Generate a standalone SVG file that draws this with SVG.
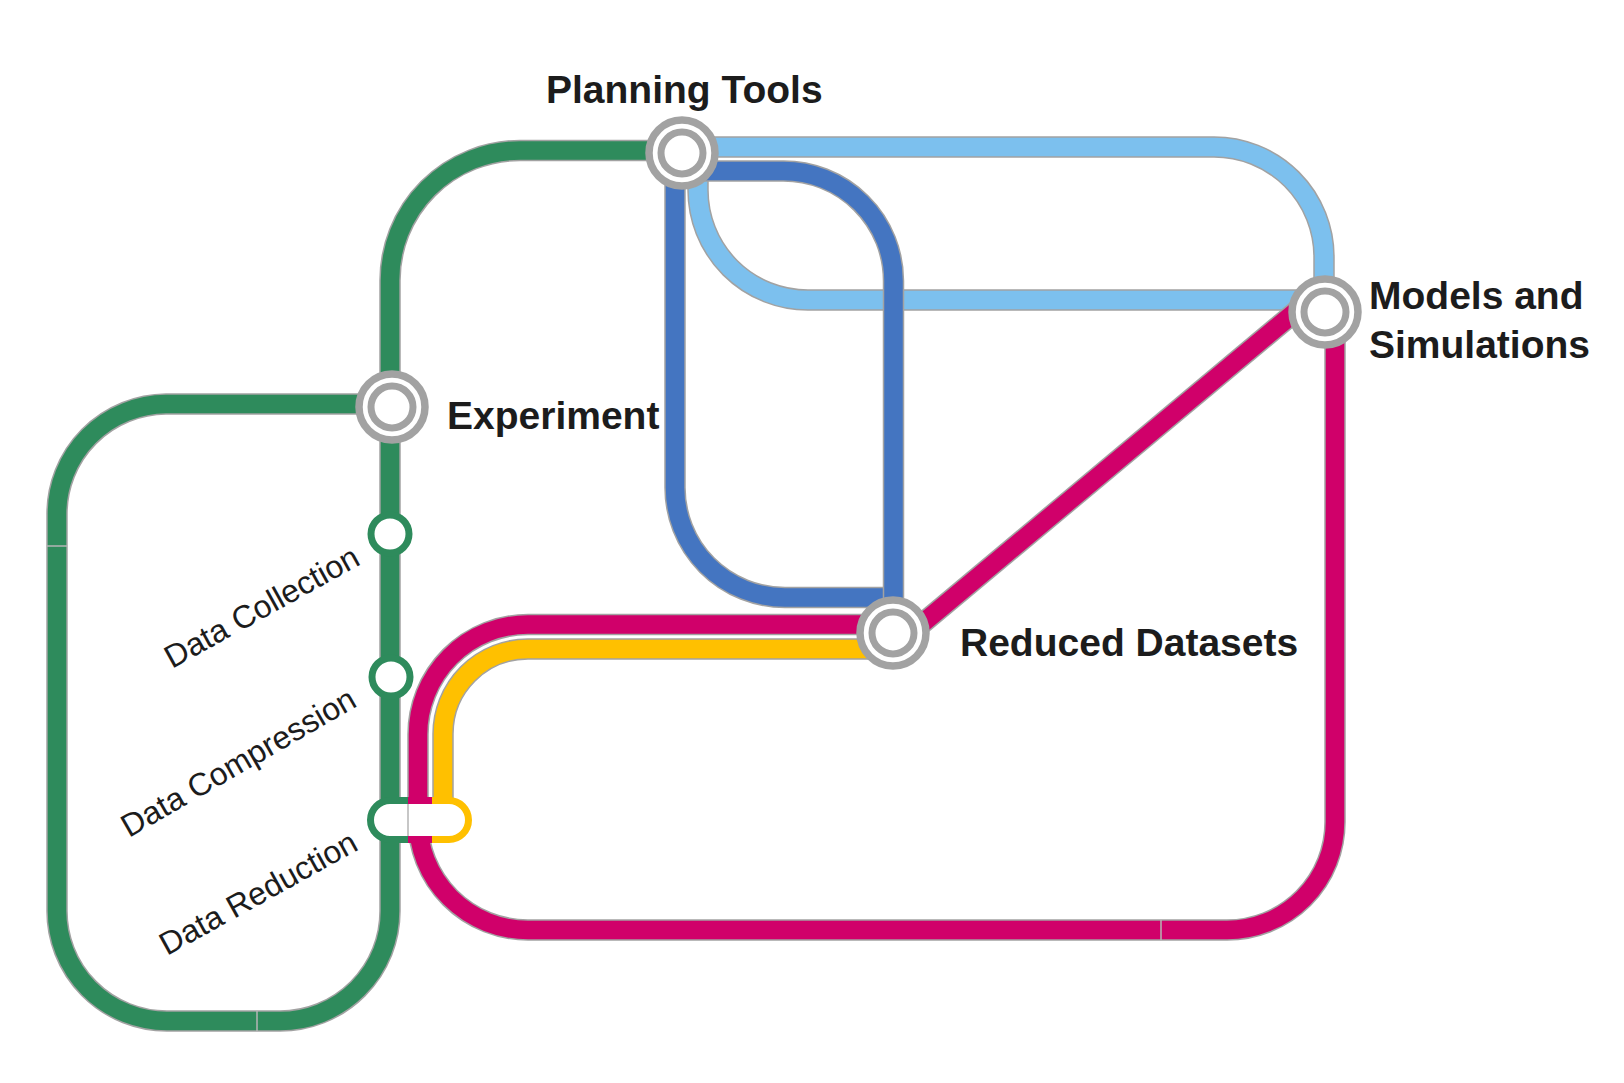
<svg xmlns="http://www.w3.org/2000/svg" xmlns:xlink="http://www.w3.org/1999/xlink" width="1624" height="1083" viewBox="0 0 1624 1083">
<style>
.case{fill:none;stroke:#a2a2a2;stroke-width:21.500}
.g{fill:none;stroke:#2e8b5c;stroke-width:18.500}
.p{fill:none;stroke:#d0006a;stroke-width:18.500}
.y{fill:none;stroke:#ffc000;stroke-width:18.500}
.lb{fill:none;stroke:#7cc0ee;stroke-width:18.500}
.db{fill:none;stroke:#4475c1;stroke-width:18.500}
.seam{fill:none;stroke:#b5b5b5;stroke-width:1.500}
.ro{fill:#fff;stroke:#a2a2a2;stroke-width:7.500}
.ri{fill:#fff;stroke:#a2a2a2;stroke-width:7}
.st{fill:#fff;stroke:#2e8b5c;stroke-width:7}
.big{font-family:"Liberation Sans",Arial,sans-serif;font-weight:700;font-size:39px;fill:#1c1c1c}
.sm{font-family:"Liberation Sans",Arial,sans-serif;font-size:32px;fill:#1c1c1c}
</style>
<defs>
<path id="g1" d="M682 150.500H520A130 130 0 0 0 390 280.500V800"/>
<path id="g2" d="M392 404H166A110 110 0 0 0 57 514V910A110 110 0 0 0 167 1021H280A110 110 0 0 0 390 911V800"/>
<path id="p1" d="M893 624.500H528A110 110 0 0 0 418 734.500V820A110 110 0 0 0 528 930H1227A108 108 0 0 0 1335 822V312"/>
<path id="p2" d="M893 648L1325 287"/>
<path id="y1" d="M893 649H528A85 85 0 0 0 443 734V800"/>
<path id="b1" d="M682 147H1214A110 110 0 0 1 1324 257V312"/>
<path id="b2" d="M698 170V190A110 110 0 0 0 808 300H1325"/>
<path id="d1" d="M682 171H783A110 110 0 0 1 893.500 281V633"/>
<path id="d2" d="M675 153V487A110 110 0 0 0 785 597.500H893"/>
</defs>
<g id="connectors">
<use href="#g1" class="case"/><use href="#g1" class="g"/>
<use href="#g2" class="case"/><use href="#g2" class="g"/>
<use href="#b1" class="case"/><use href="#b1" class="lb"/>
<use href="#b2" class="case"/><use href="#b2" class="lb"/>
<use href="#d2" class="case"/><use href="#d2" class="db"/>
<use href="#d1" class="case"/><use href="#d1" class="db"/>
<use href="#p2" class="case"/><use href="#p2" class="p"/>
<use href="#p1" class="case"/><use href="#p1" class="p"/>
<use href="#y1" class="case"/><use href="#y1" class="y"/>
<path class="seam" d="M47 546H67M257 1011V1031M1161 920V940"/>
</g>
<g id="node-planning-tools">
<circle class="ro" cx="682" cy="153" r="33"/><circle class="ri" cx="682" cy="153" r="21"/>
<text class="big" x="546" y="103">Planning Tools</text>
</g>
<g id="node-experiment">
<circle class="ro" cx="392" cy="407" r="33"/><circle class="ri" cx="392" cy="407" r="21"/>
<text class="big" x="447" y="429">Experiment</text>
</g>
<g id="node-models-and-simulations">
<circle class="ro" cx="1325" cy="312" r="33"/><circle class="ri" cx="1325" cy="312" r="21"/>
<text class="big" x="1369" y="309">Models and</text>
<text class="big" x="1369" y="358">Simulations</text>
</g>
<g id="node-reduced-datasets">
<circle class="ro" cx="893" cy="633" r="33"/><circle class="ri" cx="893" cy="633" r="21"/>
<text class="big" x="960" y="656">Reduced Datasets</text>
</g>
<g id="node-data-collection">
<circle class="st" cx="390" cy="534" r="19"/>
<text class="sm" transform="translate(172 669) rotate(-29)">Data Collection</text>
</g>
<g id="node-data-compression">
<circle class="st" cx="391" cy="677" r="19"/>
<text class="sm" transform="translate(129 838) rotate(-30)">Data Compression</text>
</g>
<g id="node-data-reduction">
<path d="M390 800.500H449A19.500 19.500 0 0 1 449 839.500H390A19.500 19.500 0 0 1 390 800.500Z" fill="#fff"/>
<path d="M408 800.500H390A19.500 19.500 0 0 0 390 839.500H408" fill="none" stroke="#2e8b5c" stroke-width="7"/>
<path d="M408 800.500H432M408 839.500H432" fill="none" stroke="#d0006a" stroke-width="7"/>
<path d="M432 800.500H449A19.500 19.500 0 0 1 449 839.500H432" fill="none" stroke="#ffc000" stroke-width="7"/>
<path class="seam" d="M408 804V836"/>
<text class="sm" transform="translate(167 956) rotate(-29)">Data Reduction</text>
</g>
</svg>
